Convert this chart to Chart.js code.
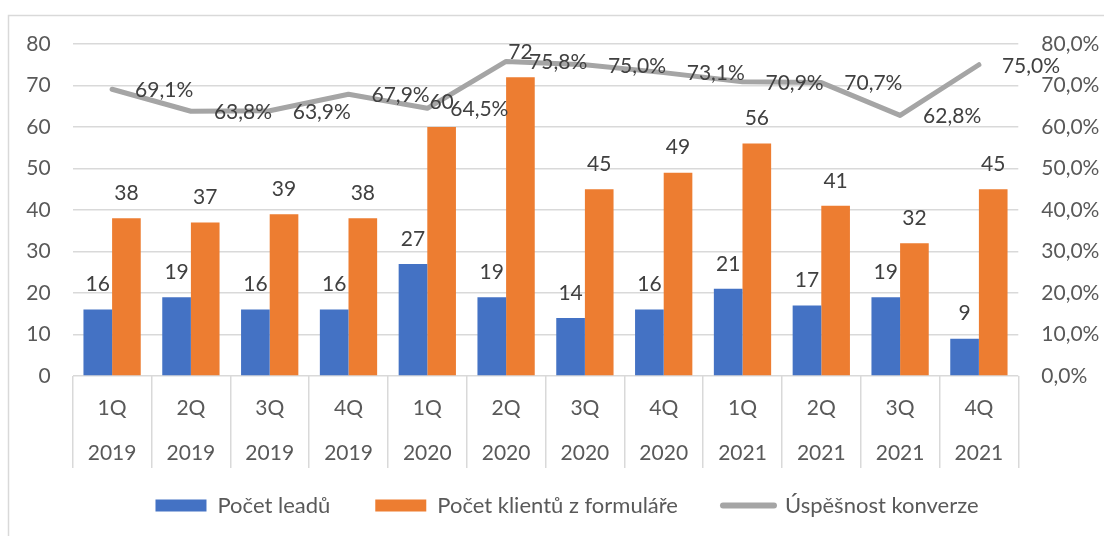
<!DOCTYPE html>
<html><head><meta charset="utf-8">
<script src="https://cdn.jsdelivr.net/npm/chart.js@4.4.0/dist/chart.umd.min.js"></script>
<style>html,body{margin:0;padding:0;background:#fff}#wrap{width:1104px;height:536px;position:relative}</style>
</head><body><div id="wrap"><canvas id="c"></canvas></div>
<script>
const quarters = ['1Q','2Q','3Q','4Q','1Q','2Q','3Q','4Q','1Q','2Q','3Q','4Q'];
const years = ['2019','2019','2019','2019','2020','2020','2020','2020','2021','2021','2021','2021'];
const leads = [16,19,16,16,27,19,14,16,21,17,19,9];
const clients = [38,37,39,38,60,72,45,49,56,41,32,45];
const conversion = [69.1,63.8,63.9,67.9,64.5,75.8,75.0,73.1,70.9,70.7,62.8,75.0];
const seriesNames = ['Počet leadů','Počet klientů z formuláře','Úspěšnost konverze'];
const axisMin = 0, axisMax = 80, axisStep = 10;

const FAMILY = 'Lato, "Open Sans", sans-serif';
const FS = 21;
const fmtPct = v => v.toFixed(1).replace('.', ',') + '%';

const frame = {
  id: 'frame',
  beforeDraw(chart) {
    const c = chart.ctx; c.save();
    c.strokeStyle = '#d9d9d9'; c.lineWidth = 1.5;
    c.strokeRect(8.5, 15.5, 1300, 700);
    c.restore();
  }
};
const legendFix = {
  id: 'legendFix',
  beforeLayout(chart) {
    const lg = chart.legend;
    if (lg && !lg._fixed) {
      const f = lg.fit;
      lg.fit = function () { f.call(this); this.height = 50; };
      lg._fixed = true;
    }
  },
  afterLayout(chart) {
    const lg = chart.legend; if (!lg) return;
    lg.top = 449.5; lg.bottom = 559.5; lg.height = 110;
    lg.left += 15; lg.right += 15;
  }
};
const valueLabels = {
  id: 'valueLabels',
  afterDatasetsDraw(chart) {
    const ctx = chart.ctx; ctx.save();
    ctx.font = FS + 'px ' + FAMILY; ctx.fillStyle = '#404040';
    chart.data.datasets.forEach((ds, i) => {
      const meta = chart.getDatasetMeta(i);
      meta.data.forEach((el, j) => {
        const v = ds.data[j];
        if (ds.type === 'line') {
          ctx.textAlign = 'left'; ctx.textBaseline = 'middle';
          ctx.fillText(fmtPct(v), el.x + 23, el.y + 1);
        } else {
          ctx.textAlign = 'center'; ctx.textBaseline = 'middle';
          ctx.fillText(String(v), el.x, el.y - 25);
        }
      });
    });
    ctx.restore();
  }
};

new Chart(document.getElementById('c'), {
  data: {
    labels: quarters.map((q, i) => [q, years[i]]),
    datasets: [
      { type: 'bar', label: seriesNames[0], data: leads, backgroundColor: '#4472C4', yAxisID: 'y', order: 2,
        categoryPercentage: 0.727, barPercentage: 1.0 },
      { type: 'bar', label: seriesNames[1], data: clients, backgroundColor: '#ED7D31', yAxisID: 'y', order: 2,
        categoryPercentage: 0.727, barPercentage: 1.0 },
      { type: 'line', label: seriesNames[2], data: conversion, borderColor: '#A5A5A5', backgroundColor: '#A5A5A5',
        borderWidth: 5, pointRadius: 0, borderCapStyle: 'round', borderJoinStyle: 'round', yAxisID: 'y1', order: 0, tension: 0 }
    ]
  },
  options: {
    responsive: true, maintainAspectRatio: false, animation: false, events: [],
    layout: { padding: { top: 44, left: 0, right: 0, bottom: 14 } },
    plugins: {
      tooltip: { enabled: false },
      legend: {
        position: 'bottom',
        labels: {
          usePointStyle: true, pointStyleWidth: 51, boxHeight: 12, padding: 45,
          color: '#595959', font: { family: FAMILY, size: 22 },
          generateLabels: chart => chart.data.datasets.map((ds, i) => ({
            text: ds.label,
            fillStyle: ds.type === 'line' ? ds.borderColor : ds.backgroundColor,
            strokeStyle: ds.type === 'line' ? ds.borderColor : ds.backgroundColor,
            lineWidth: ds.type === 'line' ? 6 : 0,
            lineCap: 'round',
            pointStyle: ds.type === 'line' ? 'line' : 'rect',
            fontColor: '#595959',
            hidden: false, datasetIndex: i
          }))
        }
      }
    },
    scales: {
      x: {
        offset: true,
        grid: { display: true, drawOnChartArea: false, drawTicks: true, tickLength: 92, color: '#d9d9d9', lineWidth: 1.5, offset: true },
        border: { display: false },
        ticks: { color: '#595959', font: { family: FAMILY, size: FS, lineHeight: 45 / FS }, padding: -82.5, maxRotation: 0, autoSkip: false },
        afterFit(s) { s.height = 96; }
      },
      y: {
        position: 'left', min: axisMin, max: axisMax,
        ticks: { stepSize: axisStep, color: '#595959', font: { family: FAMILY, size: FS }, padding: 22 },
        grid: { color: '#d9d9d9', lineWidth: 1.5, drawTicks: false },
        border: { display: false },
        afterFit(s) { s.width = 72.7; }
      },
      y1: {
        position: 'right', min: axisMin, max: axisMax,
        ticks: { stepSize: axisStep, color: '#595959', font: { family: FAMILY, size: FS }, padding: 23, callback: v => fmtPct(v) },
        grid: { drawOnChartArea: false, drawTicks: false },
        border: { display: false },
        afterFit(s) { s.width = 85.7; }
      }
    }
  },
  plugins: [frame, legendFix, valueLabels]
});
</script>
</body></html>
